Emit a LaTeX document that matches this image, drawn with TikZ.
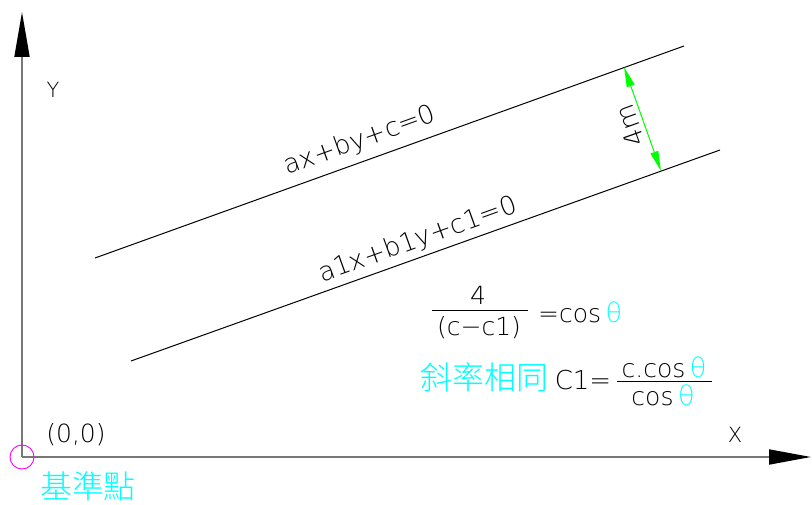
\documentclass[tikz,border=0pt]{standalone}
\usepackage{fontspec}
\usetikzlibrary{arrows.meta}
\IfFontExistsTF{DejaVu Sans ExtraLight}{\setmainfont{DejaVu Sans ExtraLight}}{\setmainfont{DejaVu Sans}}
\IfFontExistsTF{Noto Sans CJK TC Light}{\newfontfamily\cjkfont{Noto Sans CJK TC Light}}{\newfontfamily\cjkfont{Noto Sans CJK TC}}
\definecolor{cadcyan}{RGB}{0,255,255}
\definecolor{cadgreen}{RGB}{0,255,0}
\definecolor{cadmagenta}{RGB}{255,0,255}
\definecolor{axisgray}{RGB}{120,120,120}
\newcommand{\fs}[1]{\fontsize{#1}{#1}\selectfont}
\newcommand{\cth}{\textcolor{cadcyan}{\fs{27}\,θ}}
\begin{document}
\begin{tikzpicture}[x=1pt,y=-1pt,
  axisline/.style={draw=axisgray,line width=1.8pt},
  thinline/.style={draw=black,line width=1pt},
  lbl/.style={inner sep=0pt,font=\fs{24}},
  cjklbl/.style={inner sep=0pt,text=cadcyan,font=\cjkfont\fs{32}},
  dimline/.style={draw=cadgreen,line width=1pt,
    {Triangle[length=20pt,width=8pt,color=cadgreen]}-{Triangle[length=20pt,width=8pt,color=cadgreen]}}]
\useasboundingbox (0,0) rectangle (812,505);
% axes
\coordinate (O) at (22,457);
\coordinate (Ytip) at (22,12);
\coordinate (Xtip) at (811,457);
\draw[axisline,-{Triangle[length=45pt,width=15pt,color=black]}] (O) -- (Ytip);
\draw[axisline,-{Triangle[length=42pt,width=15pt,color=black]}] (O) -- (Xtip);
\draw[cadmagenta,line width=0.9pt] (O) circle[radius=12];
\node[lbl,font=\fs{21}] (ylab) at (53,90) {Y};
\node[lbl,font=\fs{21}] (xlab) at (735,435) {X};
\node[lbl,font=\fs{25}] (orig) at (76,435) {(0,0)};
\node[cjklbl] (base) at (88,486) {基準點};
% parallel lines
\coordinate (a1) at (95,258);
\coordinate (a2) at (684,46);
\coordinate (b1) at (131,361);
\coordinate (b2) at (720,150);
\draw[thinline] (a1) -- (a2);
\draw[thinline] (b1) -- (b2);
\node[lbl,font=\fs{26},rotate=19.8] (eq1) at (360,141) {ax+by+c=0};
\node[lbl,font=\fs{26},rotate=19.8] (eq2) at (418,240) {a1x+b1y+c1=0};
% dimension
\coordinate (d1) at (624,67);
\coordinate (d2) at (661,171);
\draw[dimline] (d1) -- (d2);
\node[lbl,font=\fs{26},rotate=109.6] (dimtxt) at (630,126) {4m};
% formula 1
\node[lbl,font=\fs{25}] (num1) at (478,295) {4};
\coordinate (bar1a) at (432,311);
\coordinate (bar1b) at (528,311);
\draw[thinline] (bar1a) -- (bar1b);
\node[lbl,font=\fs{25}] (den1) at (479,328) {(c−c1)};
\node[lbl,font=\fs{25},anchor=west] (eqcos) at (538,312) {=cos\cth};
% formula 2
\node[cjklbl] (slope) at (484,377) {斜率相同};
\node[lbl,font=\fs{26}] (c1eq) at (583,380) {C1=};
\node[lbl,font=\fs{25}] (num2) at (664,367) {c.cos\cth};
\coordinate (bar2a) at (617,381);
\coordinate (bar2b) at (712,381);
\draw[thinline] (bar2a) -- (bar2b);
\node[lbl,font=\fs{25}] (den2) at (663,395) {cos\cth};
\end{tikzpicture}
\end{document}
